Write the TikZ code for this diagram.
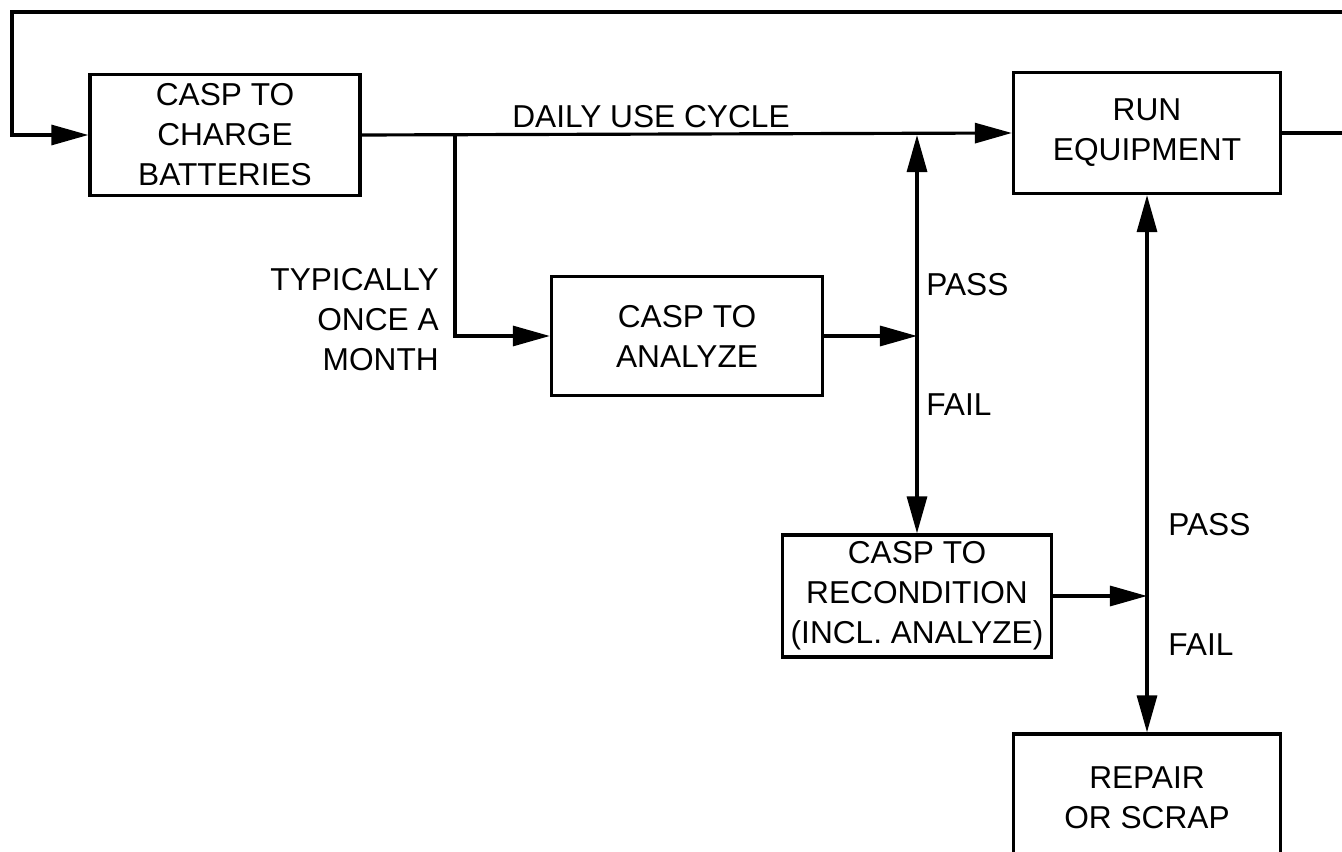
\documentclass[tikz,border=0pt]{standalone}
\usepackage{fontspec}
\setmainfont{Liberation Sans}
\usetikzlibrary{positioning,arrows.meta}

\begin{document}
\begin{tikzpicture}[x=0.01cm,y=-0.01cm,>={Triangle[length=3.7mm,width=2mm]},line width=0.9pt,font=\fontsize{9}{11.4}\selectfont]
\tikzstyle{block}=[draw,align=center,inner sep=0pt,minimum height=1.21cm]
\useasboundingbox (0,0) rectangle (1342,852);

\node[block,minimum width=2.70cm] (charge) at (225,135) {CASP TO\\CHARGE\\BATTERIES};
\node[block,minimum width=2.67cm] (run) at (1147,133) {RUN\\EQUIPMENT};
\node[block,minimum width=2.71cm,minimum height=1.19cm] (analyze) at (687,336) {CASP TO\\ANALYZE};
\node[block,minimum width=2.69cm,minimum height=1.22cm] (recond) at (917,596) {CASP TO\\RECONDITION\\(INCL. ANALYZE)};
\node[block,minimum width=2.67cm,minimum height=1.28cm] (repair) at (1147,798) {REPAIR\\OR SCRAP};

\coordinate (split) at (455,135);
\coordinate (check1) at (917,135);
\coordinate (judge1) at (917,336);
\coordinate (judge2) at (1147,596);
\coordinate (loopR) at (1400,12);
\coordinate (loopL) at (12,12);

\draw[->] (charge.east) -- (run.west);
\draw[->] (split) |- (analyze.west);
\draw[->] (analyze.east) -- (judge1);
\draw[<->] (check1) -- (recond.north);
\draw[->] (recond.east) -- (judge2);
\draw[<->] (run.south) -- (repair.north);
\draw[->] (run.east) -| (loopR) -- (loopL) |- (charge.west);

\node (daily) at (651,117) {DAILY USE CYCLE};
\node[anchor=east,align=right] (monthly) at (452,320) {TYPICALLY\\ONCE A\\MONTH};
\node[anchor=west] (pass1) at (913,285) {PASS};
\node[anchor=west] (fail1) at (913,405) {FAIL};
\node[anchor=west] (pass2) at (1155,525) {PASS};
\node[anchor=west] (fail2) at (1155,645) {FAIL};
\end{tikzpicture}
\end{document}
